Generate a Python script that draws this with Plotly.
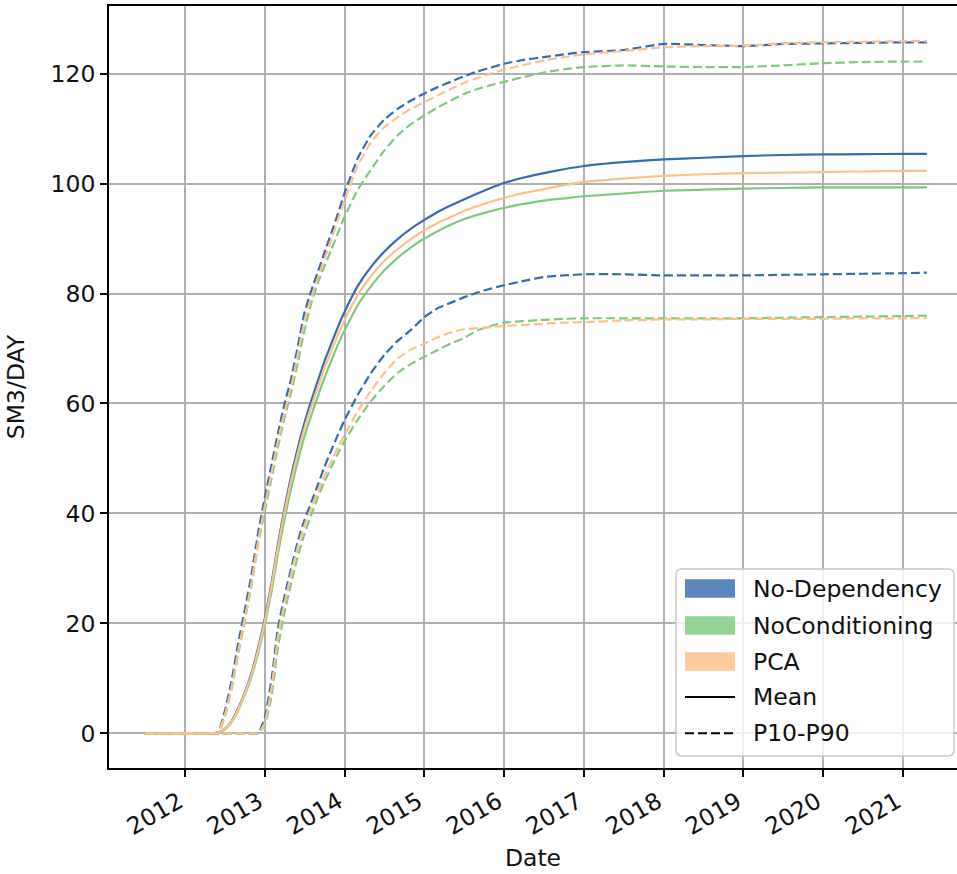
import plotly.graph_objects as go

# ---- data -------------------------------------------------------------
dates = [
    "2011-07-01", "2012-05-01", "2012-06-01", "2012-07-01", "2012-08-01",
    "2012-09-01", "2012-10-01", "2012-11-01", "2012-12-01", "2013-01-01",
    "2013-02-01", "2013-03-01", "2013-04-01", "2013-05-01", "2013-06-01",
    "2013-07-01", "2013-08-01", "2013-09-01", "2013-10-01", "2013-11-01",
    "2013-12-01", "2014-01-01", "2014-03-01", "2014-05-01", "2014-07-01",
    "2014-09-01", "2014-11-01", "2015-01-01", "2015-03-01", "2015-05-01",
    "2015-07-01", "2015-09-01", "2015-11-01", "2016-01-01", "2016-04-01",
    "2016-07-01", "2016-10-01", "2017-01-01", "2017-07-01", "2018-01-01",
    "2018-07-01", "2019-01-01", "2019-07-01", "2020-01-01", "2020-07-01",
    "2021-01-01", "2021-04-20",
]

no_dep_mean = [0, 0, 0.1, 0.8, 2.2, 4.6, 7.5, 11.0, 15.6, 21.0,
               27.5, 34.3, 41.0, 46.8, 52.0, 56.5, 60.5, 64.2, 67.7, 70.9,
               73.9, 76.7, 81.3, 84.8, 87.6, 89.9, 91.8, 93.4, 94.8, 96.0,
               97.1, 98.2, 99.2, 100.1, 101.1, 101.9, 102.6, 103.2, 103.9, 104.4,
               104.7, 105.0, 105.2, 105.3, 105.35, 105.4, 105.4]
no_dep_p10 = [0, 0, 0, 0, 0, 0, 0, 0, 0, 3.0,
              10.0, 19.0, 25.0, 30.0, 35.0, 38.8, 42.0, 45.3, 48.5, 51.5,
              54.3, 57.0, 61.5, 65.5, 68.8, 71.4, 73.4, 75.7, 77.3, 78.3,
              79.3, 80.2, 80.9, 81.5, 82.3, 83.0, 83.3, 83.5, 83.5, 83.3,
              83.3, 83.3, 83.4, 83.5, 83.6, 83.7, 83.8]
no_dep_p90 = [0, 0, 0.3, 4.0, 9.5, 16.5, 22.5, 29.0, 36.5, 43.0,
              49.0, 54.5, 60.0, 64.5, 70.5, 76.5, 80.5, 84.0, 87.5, 91.0,
              94.5, 98.3, 104.5, 108.8, 111.6, 113.6, 115.1, 116.4, 117.5, 118.5,
              119.5, 120.4, 121.1, 121.8, 122.5, 123.0, 123.5, 123.9, 124.3, 125.4,
              125.2, 125.0, 125.4, 125.5, 125.6, 125.7, 125.7]

no_cond_mean = [0, 0, 0.1, 0.7, 2.0, 4.2, 7.0, 10.3, 14.6, 19.8,
                26.0, 32.5, 39.0, 44.6, 49.6, 54.0, 57.8, 61.4, 64.7, 67.8,
                70.7, 73.3, 77.8, 81.3, 84.2, 86.5, 88.4, 90.0, 91.3, 92.5,
                93.5, 94.3, 95.0, 95.6, 96.3, 96.9, 97.3, 97.7, 98.2, 98.7,
                98.9, 99.1, 99.2, 99.3, 99.3, 99.3, 99.3]
no_cond_p10 = [0, 0, 0, 0, 0, 0, 0, 0, 0, 1.5,
               7.0, 15.5, 22.0, 27.3, 32.3, 36.3, 39.7, 43.0, 45.8, 48.4,
               50.9, 53.2, 57.0, 60.4, 63.2, 65.6, 67.2, 68.5, 69.7, 70.9,
               71.9, 73.3, 74.1, 74.7, 75.0, 75.2, 75.4, 75.5, 75.5, 75.5,
               75.5, 75.5, 75.6, 75.7, 75.8, 75.9, 76.0]
no_cond_p90 = [0, 0, 0.2, 3.0, 8.0, 14.5, 20.5, 27.0, 34.5, 40.5,
               46.5, 52.0, 57.5, 62.0, 67.5, 73.3, 78.2, 82.0, 85.0, 88.0,
               91.0, 94.0, 98.8, 102.5, 106.0, 108.8, 110.8, 112.4, 113.8, 115.1,
               116.3, 117.2, 117.9, 118.5, 119.4, 120.2, 120.8, 121.2, 121.5, 121.3,
               121.2, 121.2, 121.5, 121.9, 122.1, 122.2, 122.2]

pca_mean = [0, 0, 0.1, 0.8, 2.1, 4.4, 7.3, 10.7, 15.2, 20.5,
            27.0, 33.7, 40.3, 46.0, 51.1, 55.5, 59.4, 63.0, 66.4, 69.5,
            72.5, 75.2, 79.7, 83.1, 85.9, 88.1, 89.9, 91.5, 92.8, 93.9,
            95.0, 95.9, 96.7, 97.4, 98.3, 99.0, 99.7, 100.3, 100.9, 101.4,
            101.7, 101.9, 102.0, 102.1, 102.2, 102.3, 102.3]
pca_p10 = [0, 0, 0, 0, 0, 0, 0, 0, 0, 2.0,
           8.5, 17.5, 23.8, 29.0, 34.0, 37.8, 41.0, 44.0, 46.8, 49.5,
           52.0, 54.3, 58.5, 62.3, 65.5, 68.2, 69.8, 70.9, 72.0, 72.9,
           73.5, 73.7, 73.9, 74.1, 74.3, 74.5, 74.7, 74.8, 75.1, 75.3,
           75.3, 75.4, 75.4, 75.4, 75.5, 75.5, 75.6]
pca_p90 = [0, 0, 0.2, 3.2, 8.3, 15.0, 21.0, 27.5, 35.0, 41.5,
           47.5, 53.0, 58.5, 63.0, 69.0, 75.0, 79.2, 82.8, 86.3, 89.8,
           93.3, 96.9, 103.2, 107.5, 110.2, 112.1, 113.6, 114.8, 116.0, 117.2,
           118.3, 119.2, 120.0, 120.7, 121.6, 122.4, 123.0, 123.5, 124.1, 124.8,
           125.0, 125.1, 125.5, 125.7, 125.8, 125.9, 125.9]

methods = ["No-Dependency", "NoConditioning", "PCA"]
line_kinds = ["Mean", "P10-P90"]
year_ticks = [2012, 2013, 2014, 2015, 2016, 2017, 2018, 2019, 2020, 2021]
y_ticks = [0, 20, 40, 60, 80, 100, 120]

# ---- styling ----------------------------------------------------------
BLUE, GREEN, ORANGE = "#386cb0", "#7fc97f", "#fdc086"
PATCH = {"No-Dependency": "rgba(56,108,176,0.82)",
         "NoConditioning": "rgba(127,201,127,0.82)",
         "PCA": "rgba(253,192,134,0.82)"}
DASH = "9px,4px"
LW = 2.2
FONT = "DejaVu Sans"
FS = 23.5
TXT = "#111111"

W, H = 957, 874
ML, MR, MT, MB = 109, 0, 6, 106


def fx(px):
    return (px - ML) / (W - ML - MR)


def fy(py):
    return (H - MB - py) / (H - MT - MB)


series = [
    (methods[0], BLUE, no_dep_mean, no_dep_p10, no_dep_p90),
    (methods[1], GREEN, no_cond_mean, no_cond_p10, no_cond_p90),
    (methods[2], ORANGE, pca_mean, pca_p10, pca_p90),
]

fig = go.Figure()
for name, color, mean, p10, p90 in series:
    for label, vals, dash in ((f"{name} mean", mean, "solid"),
                              (f"{name} P10", p10, DASH),
                              (f"{name} P90", p90, DASH)):
        fig.add_trace(go.Scatter(x=dates, y=vals, mode="lines", name=label,
                                 line=dict(color=color, width=LW, dash=dash,
                                           shape="spline", smoothing=0.5),
                                 showlegend=False))

# ---- legend box (drawn in paper space) --------------------------------
bx0, bx1, by0, by1, rad = 676, 954, 569, 756, 6
pts = [("M", bx0 + rad, by0), ("L", bx1 - rad, by0), ("Q", bx1, by0, bx1, by0 + rad),
       ("L", bx1, by1 - rad), ("Q", bx1, by1, bx1 - rad, by1), ("L", bx0 + rad, by1),
       ("Q", bx0, by1, bx0, by1 - rad), ("L", bx0, by0 + rad), ("Q", bx0, by0, bx0 + rad, by0)]
path = ""
for p in pts:
    cmd, coords = p[0], p[1:]
    parts = []
    for i in range(0, len(coords), 2):
        parts.append(f"{fx(coords[i]):.5f},{fy(coords[i + 1]):.5f}")
    path += cmd + " ".join(parts) + " "
path += "Z"

shapes = [dict(type="path", path=path, xref="paper", yref="paper", layer="above",
               fillcolor="rgba(255,255,255,0.8)", line=dict(color="#cccccc", width=1.6))]
annotations = []

row_y = [588.5, 625.5, 661.5, 697.0, 733.3]
sw_x0, sw_x1, txt_x = 685, 735, 751
for i, name in enumerate(methods):
    cy = row_y[i]
    shapes.append(dict(type="rect", xref="paper", yref="paper", layer="above",
                       x0=fx(sw_x0), x1=fx(sw_x1), y0=fy(cy + 9.3), y1=fy(cy - 9.3),
                       fillcolor=PATCH[name], line=dict(width=0)))
for j, kind in enumerate(line_kinds):
    cy = row_y[3 + j]
    shapes.append(dict(type="line", xref="paper", yref="paper", layer="above",
                       x0=fx(sw_x0), x1=fx(sw_x1), y0=fy(cy), y1=fy(cy),
                       line=dict(color="black", width=2,
                                 dash="solid" if kind == "Mean" else DASH)))
for i, label in enumerate(methods + line_kinds):
    annotations.append(dict(text=label, xref="paper", yref="paper", x=fx(txt_x), y=fy(row_y[i]),
                            xanchor="left", yanchor="middle", showarrow=False,
                            font=dict(family=FONT, size=FS, color=TXT)))

axis_common = dict(showgrid=True, gridcolor="#b0b0b0", gridwidth=1.6,
                   showline=True, linecolor="black", linewidth=1.8,
                   ticks="outside", ticklen=7, tickwidth=1.6, tickcolor="black",
                   zeroline=False, tickfont=dict(family=FONT, size=FS, color=TXT))

fig.update_layout(
    width=W, height=H,
    margin=dict(l=ML, r=MR, t=MT, b=MB, autoexpand=False),
    paper_bgcolor="white", plot_bgcolor="white",
    font=dict(family=FONT, size=FS, color=TXT),
    showlegend=False,
    shapes=shapes, annotations=annotations,
    xaxis=dict(type="date", range=["2011-01-18", "2021-09-05"],
               tickvals=[f"{y}-01-01" for y in year_ticks],
               ticktext=[str(y) for y in year_ticks], tickangle=-30,
               ticklabelshift=-6, ticklabelstandoff=2,
               mirror=True,
               title=dict(text="Date", font=dict(family=FONT, size=FS, color=TXT), standoff=10),
               **axis_common),
    yaxis=dict(range=[-6.3, 132.3], tickvals=y_ticks,
               ticktext=[str(v) for v in y_ticks],
               title=dict(text="SM3/DAY", font=dict(family=FONT, size=FS, color=TXT), standoff=19),
               **axis_common),
)

fig.write_html("out.html")
